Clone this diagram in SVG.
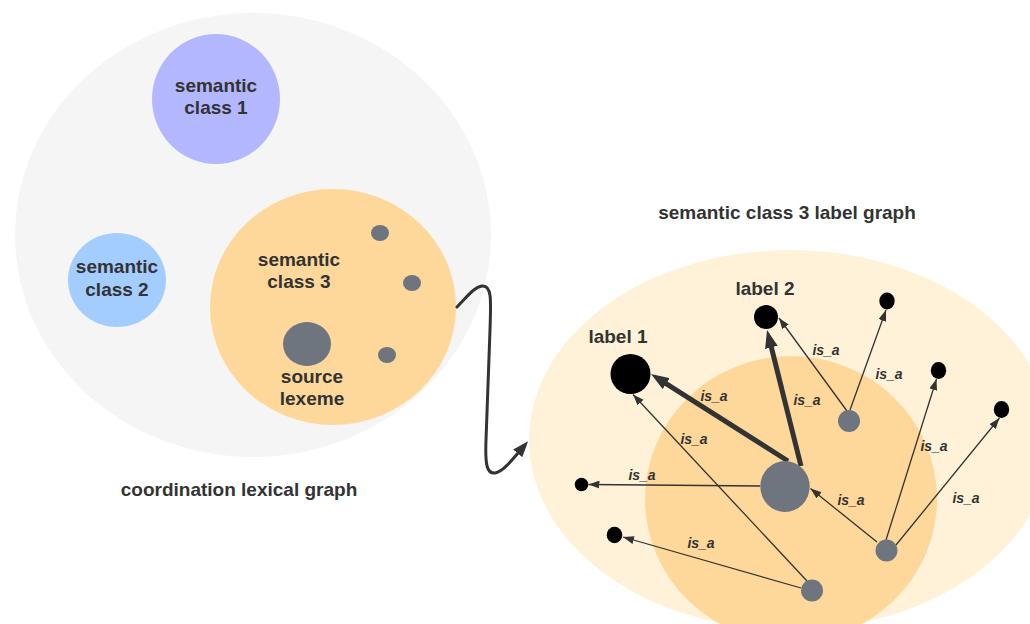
<svg xmlns="http://www.w3.org/2000/svg" width="1030" height="624" viewBox="0 0 1030 624">
<style>
.t{font-family:"Liberation Sans",Arial,sans-serif;font-weight:bold;font-size:19px;fill:#333333;text-anchor:middle}
.r{font-family:"Liberation Sans",Arial,sans-serif;font-weight:bold;font-style:italic;font-size:14px;fill:#333333;text-anchor:middle}
.thin{stroke:#333333;stroke-width:1.3;fill:none;marker-end:url(#ah)}
.thick{stroke:#333333;stroke-width:5;fill:none;marker-end:url(#ahb)}
.g{fill:#6e757e}
.b{fill:#000000}
</style>
<defs>
<marker id="ah" markerUnits="userSpaceOnUse" markerWidth="11" markerHeight="8" refX="11" refY="4" orient="auto"><path d="M0,0 L11,4 L0,8 z" fill="#333333"/></marker>
<marker id="ahb" markerUnits="userSpaceOnUse" markerWidth="18" markerHeight="13" refX="9" refY="6.5" orient="auto"><path d="M0,0 L18,6.5 L0,13 z" fill="#333333"/></marker>
<marker id="ahc" markerUnits="userSpaceOnUse" markerWidth="16" markerHeight="12" refX="10" refY="6" orient="auto"><path d="M0,0 L16,6 L0,12 z" fill="#333333"/></marker>
</defs>
<rect width="1030" height="624" fill="#ffffff"/>

<g id="coordination-lexical-graph">
<ellipse cx="253" cy="235" rx="238" ry="222" fill="#f5f5f5"/>
<text class="t" x="239" y="496">coordination lexical graph</text>
</g>
<g id="semantic-class-1">
<ellipse cx="216" cy="99" rx="64" ry="65" fill="#b3b7ff"/>
<text class="t" x="216" y="92">semantic</text>
<text class="t" x="216" y="114">class 1</text>
</g>
<g id="semantic-class-2">
<ellipse cx="117" cy="280" rx="49" ry="47" fill="#a3cdff"/>
<text class="t" x="117" y="273">semantic</text>
<text class="t" x="117" y="296">class 2</text>
</g>
<g id="semantic-class-3">
<ellipse cx="333" cy="307" rx="123" ry="118" fill="#fed89a"/>
<text class="t" x="299" y="266">semantic</text>
<text class="t" x="299" y="288">class 3</text>
<ellipse class="g" cx="380" cy="233" rx="9" ry="8"/>
<ellipse class="g" cx="412" cy="283" rx="9" ry="8"/>
<ellipse class="g" cx="387" cy="355" rx="9" ry="8"/>
</g>
<g id="source-lexeme">
<ellipse class="g" cx="307" cy="344" rx="24" ry="22"/>
<text class="t" x="312" y="383">source</text>
<text class="t" x="312" y="405">lexeme</text>
</g>

<g id="label-graph">
<ellipse cx="790" cy="440" rx="261" ry="190" fill="#fff2d8"/>
<ellipse cx="791" cy="499" rx="146" ry="143" fill="#fed89a"/>
<text class="t" x="787" y="219">semantic class 3 label graph</text>
</g>

<g id="connectors">
<path d="M457,307 C467,297 474,287 482,286 C492,285 491,300 490,330 L486,440 C485,465 487,474 495,473 C503,472 512,460 524.2,445.7" stroke="#333333" stroke-width="3" fill="none" stroke-linecap="round" marker-end="url(#ahc)"/>
<path class="thick" d="M788,461 L658.6,378.8"/>
<path class="thick" d="M801,466 L769.2,338.7"/>
<path class="thin" d="M760,486 L588.5,484.5"/>
<path class="thin" d="M847,411 L779,318"/>
<path class="thin" d="M850,410 L886,310"/>
<path class="thin" d="M877,542 L810.5,488.5"/>
<path class="thin" d="M886,540 L936.5,379"/>
<path class="thin" d="M896,545 L999.5,418"/>
<path class="thin" d="M807,581 L633,394.5"/>
<path class="thin" d="M801,588 L623,537"/>
<text class="r" x="714" y="401">is_a</text>
<text class="r" x="807" y="405">is_a</text>
<text class="r" x="826" y="355">is_a</text>
<text class="r" x="889" y="379">is_a</text>
<text class="r" x="694" y="444">is_a</text>
<text class="r" x="642" y="480">is_a</text>
<text class="r" x="851" y="505">is_a</text>
<text class="r" x="934" y="451">is_a</text>
<text class="r" x="966" y="503">is_a</text>
<text class="r" x="701" y="548">is_a</text>
</g>

<g id="label-1">
<circle class="b" cx="630.5" cy="374" r="20"/>
<text class="t" x="618" y="343">label 1</text>
</g>
<g id="label-2">
<circle class="b" cx="766" cy="317" r="12"/>
<text class="t" x="765" y="295">label 2</text>
</g>
<g id="label-3"><ellipse class="b" cx="887" cy="301" rx="7.7" ry="8.5"/></g>
<g id="label-4"><ellipse class="b" cx="938.5" cy="370.5" rx="7.7" ry="8.5"/></g>
<g id="label-5"><ellipse class="b" cx="1001.5" cy="409.5" rx="7.7" ry="8.5"/></g>
<g id="label-6"><ellipse class="b" cx="581.5" cy="484.5" rx="6.8" ry="6.8"/></g>
<g id="label-7"><ellipse class="b" cx="614.5" cy="535" rx="7.8" ry="8.3"/></g>
<g id="source-node"><ellipse class="g" cx="785" cy="486.5" rx="24.7" ry="25.5"/></g>
<g id="lexeme-a"><circle class="g" cx="849" cy="421" r="11"/></g>
<g id="lexeme-b"><circle class="g" cx="886.5" cy="550.5" r="11"/></g>
<g id="lexeme-c"><circle class="g" cx="812" cy="590.5" r="11"/></g>
</svg>
